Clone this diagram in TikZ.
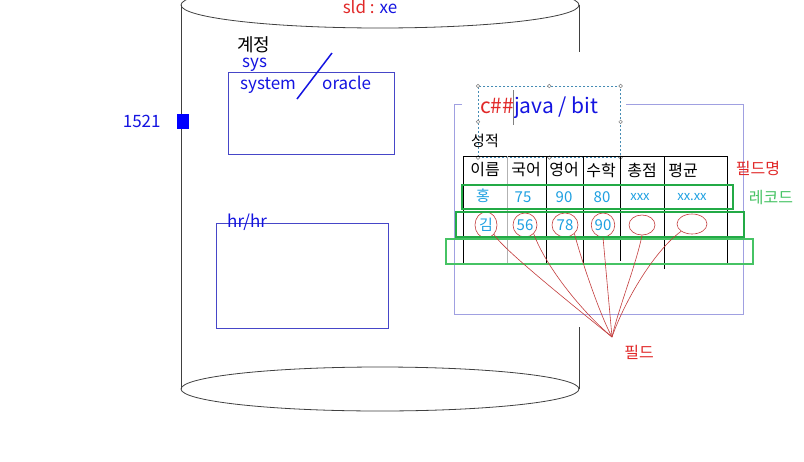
\documentclass[tikz,border=0pt]{standalone}
\usepackage{fontspec}
\setmainfont{Noto Sans CJK KR}
\usepackage{tikz}
\usetikzlibrary{arrows,shapes,chains}
\usetikzlibrary{positioning}
\definecolor{dbblue}{RGB}{20,20,225}
\definecolor{boxblue}{RGB}{70,70,200}
\definecolor{lavender}{RGB}{160,160,225}
\definecolor{dashblue}{RGB}{70,140,180}
\definecolor{cellcyan}{RGB}{30,160,225}
\definecolor{recgreen}{RGB}{35,170,70}
\definecolor{litegreen}{RGB}{70,195,100}
\definecolor{labelred}{RGB}{225,40,40}
\definecolor{curvered}{RGB}{195,60,60}

\begin{document}
\begin{tikzpicture}[x=1pt, y=-1pt, inner sep=0pt]
\tikzstyle{big} = [font=\fontsize{17}{19}\selectfont]
\tikzstyle{cell} = [font=\fontsize{16}{18}\selectfont]
\tikzstyle{val} = [font=\fontsize{15}{17}\selectfont, text=cellcyan]
\tikzstyle{fld} = [val, ellipse, draw=curvered, line width=0.6]
\tikzstyle{cyl} = [draw=black!75, line width=0.8]
\tikzstyle{curve} = [draw=curvered, line width=0.6]
\useasboundingbox (0,0) rectangle (804,461);
\fill[white] (0,0) rectangle (804,461);
% database cylinder
\draw[cyl] (380,5) ellipse [x radius=199, y radius=23];
\draw[cyl] (380,389) ellipse [x radius=199, y radius=22];
\draw[cyl] (181,5) -- (181,389);
\draw[cyl] (579,5) -- (579,52);
\draw[cyl] (579,327) -- (579,389);
\node (sid) [big] at (370,7) {\textcolor{labelred}{sld :} \textcolor{dbblue}{xe}};
% listener port
\node (port) [fill=blue, minimum width=12, minimum height=15] at (183,121) {};
\node (portnum) [big, text=dbblue, left=16pt of port] {1521};
% accounts
\node (account) [font=\fontsize{18}{20}\selectfont, anchor=west] at (237,45) {계정};
\node (sysbox) [draw=boxblue, minimum width=166, minimum height=82, anchor=north west] at (228,72) {};
\node (sys) [big, text=dbblue, anchor=west] at (242,65) {sys};
\node (system) [big, text=dbblue, anchor=west] at (240,86) {system};
\node (oracle) [big, text=dbblue, anchor=west] at (322,83) {oracle};
\draw[dbblue, line width=1.5] (297,99) -- (332,53);
\node (hrbox) [draw=boxblue, minimum width=172, minimum height=105, anchor=north west] at (216,223) {};
\node (hr) [big, text=dbblue, anchor=west] at (227,222) {hr/hr};
% user schema
\draw[lavender, line width=0.8] (462,104) -- (454,104) -- (454,314) -- (743,314) -- (743,104) -- (626,104);
\node (schema) [draw=dashblue, dashed, dash pattern=on 2pt off 2pt, line width=0.6, minimum width=142, minimum height=71, anchor=north west] at (478,86) {};
\foreach \p in {north west, north, north east, west, east, south west, south, south east}
  \draw[gray, fill=white, line width=0.5] (schema.\p) circle (1.8);
\node (user) [font=\fontsize{21}{23}\selectfont, anchor=west] at (480,108) {\textcolor{labelred}{c\#\#}\textcolor{dbblue}{java / bit}};
\draw[gray, line width=0.8] (513,90) -- (513,125);
\node (grade) [font=\fontsize{15}{17}\selectfont, anchor=west] at (471,141) {성적};
% table
\draw[line width=0.8] (463,156) -- (727,156);
\foreach \x in {463,546,583,727}
  \draw[line width=0.8] (\x,156) -- (\x,263);
\draw[black!30, line width=0.8] (507,156) -- (507,263);
\draw[line width=0.8] (620,156) -- (620,261);
\draw[line width=0.8] (664,156) -- (664,269);
\node (hname) [cell] at (485,170) {이름};
\node (hkor) [cell] at (526,170) {국어};
\node (heng) [cell] at (564,170) {영어};
\node (hmath) [cell] at (601,170) {수학};
\node (htotal) [cell] at (642,170) {총점};
\node (havg) [cell] at (683,170) {평균};
\node (hong) [val] at (483,196) {홍};
\node (hongkor) [val] at (523,197) {75};
\node (hongeng) [val] at (564,197) {90};
\node (hongmath) [val] at (602,197) {80};
\node (hongtotal) [val, font=\fontsize{13}{15}\selectfont] at (640,197) {xxx};
\node (hongavg) [val, font=\fontsize{13}{15}\selectfont] at (692,197) {xx.xx};
\node (kim) [fld, minimum width=22, minimum height=26] at (486,225) {김};
\node (kimkor) [fld, minimum width=24, minimum height=24] at (525,225) {56};
\node (kimeng) [fld, minimum width=26, minimum height=24] at (565,225) {78};
\node (kimmath) [fld, minimum width=22, minimum height=24] at (603,225) {90};
\node (kimtotal) [fld, minimum width=26, minimum height=20] at (642,225) {};
\node (kimavg) [fld, minimum width=30, minimum height=20] at (692,224) {};
% records
\draw[recgreen, line width=2.5] (462,185) rectangle (733,209);
\draw[recgreen, line width=2] (456,212) rectangle (744,237);
\draw[litegreen, line width=2] (446,239) rectangle (753,264);
\node (fieldname) [cell, text=labelred] at (758,168) {필드명};
\node (record) [cell, text=litegreen] at (771,198) {레코드};
% fields
\coordinate (fieldpt) at (612,337);
\node (field) [cell, text=labelred] at (639,352) {필드};
\draw[curve] (kim.south east) .. controls (502,248) and (560,295) .. (fieldpt);
\draw[curve] (kimkor.south east) .. controls (545,265) and (580,310) .. (fieldpt);
\draw[curve] (kimeng.south east) .. controls (582,262) and (600,315) .. (fieldpt);
\draw[curve] (kimmath.south) -- (fieldpt);
\draw[curve] (kimtotal.south) .. controls (636,265) and (618,310) .. (fieldpt);
\draw[curve] (kimavg.south west) .. controls (655,250) and (625,300) .. (fieldpt);
\end{tikzpicture}
\end{document}
